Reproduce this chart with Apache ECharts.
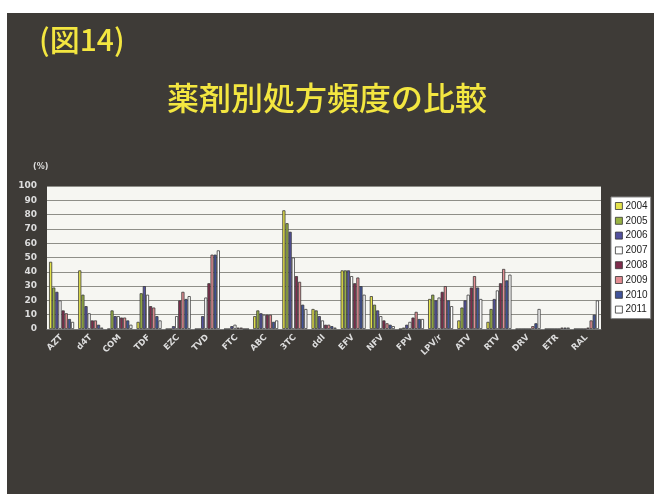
<!DOCTYPE html>
<html>
<head>
<meta charset="utf-8">
<script src="https://cdn.jsdelivr.net/npm/echarts@6/dist/echarts.min.js"></script>
<style>
  html, body { margin: 0; padding: 0; background: #ffffff; }
  #chart { width: 654px; height: 494px; }
</style>
</head>
<body>
<div id="chart"></div>
<script>
// Drug names along the x axis
const drugs = ['AZT', 'd4T', 'COM', 'TDF', 'EZC', 'TVD', 'FTC', 'ABC', '3TC', 'ddI',
               'EFV', 'NFV', 'FPV', 'LPV/r', 'ATV', 'RTV', 'DRV', 'ETR', 'RAL'];

// Prescription frequency (%) per drug, one array per year
const y2004 = [47, 41, 0, 5, 0, 0, 0, 9, 83, 14, 41, 23, 0, 21, 6, 5, 0, 0, 0];
const y2005 = [29, 24, 13, 25, 0, 0, 0, 13, 74, 13, 41, 17, 1, 24, 15, 14, 0, 0, 0];
const y2006 = [26, 16, 9, 30, 2, 9, 2, 11, 68, 9, 41, 13, 3, 20, 20, 21, 0, 0, 0];
const y2007 = [20, 11, 9, 24, 9, 22, 3, 10, 50, 6, 37, 9, 5, 22, 24, 27, 0, 0, 0];
const y2008 = [13, 6, 8, 16, 20, 32, 1, 10, 37, 3, 32, 6, 8, 26, 29, 32, 0, 0, 1];
const y2009 = [11, 6, 8, 15, 26, 52, 1, 10, 33, 3, 36, 4, 12, 30, 37, 42, 2, 1, 6];
const y2010 = [7, 3, 6, 9, 21, 52, 0, 5, 17, 2, 30, 3, 7, 20, 29, 34, 4, 1, 10];
const y2011 = [5, 1, 3, 6, 23, 55, 0, 6, 14, 1, 24, 2, 7, 16, 21, 38, 14, 1, 20];

const years = ['2004', '2005', '2006', '2007', '2008', '2009', '2010', '2011'];
const yearData = [y2004, y2005, y2006, y2007, y2008, y2009, y2010, y2011];
const yearColors = ['#e4e24a', '#98b244', '#52509e', '#ffffff',
                    '#7e2c4c', '#e28c92', '#41539a', '#ffffff'];

// Y axis ticks
const yMin = 0, yMax = 100, yStep = 10;

const chart = echarts.init(document.getElementById('chart'), null, { renderer: 'canvas' });

const series = years.map((yr, i) => ({
  name: yr,
  type: 'bar',
  data: yearData[i],
  barGap: '0%',
  barCategoryGap: '14%',
  itemStyle: { color: yearColors[i], borderColor: '#3a3a3a', borderWidth: 0.8 },
  emphasis: { disabled: true }
}));

chart.setOption({
  animation: false,
  backgroundColor: '#ffffff',
  graphic: [
    { type: 'rect', z: -10, shape: { x: 7, y: 13, width: 647, height: 481 },
      style: { fill: '#3e3b37' } },
    { type: 'text', left: 39, top: 25, z: 10,
      style: { text: '(図14)', fill: '#f3e640', font: '500 30px "Noto Sans CJK JP"' } },
    { type: 'text', left: 'center', top: 82, z: 10,
      style: { text: '薬剤別処方頻度の比較', fill: '#f3e640', font: '500 32px "Noto Sans CJK JP"' } },
    { type: 'text', left: 33, top: 163, z: 10,
      style: { text: '(%)', fill: '#dddddd', font: 'bold 8px "DejaVu Sans"' } }
  ],
  grid: {
    left: 47, right: 53, top: 186, bottom: 165,
    show: true, backgroundColor: '#f6f6f2', borderWidth: 0
  },
  legend: {
    orient: 'vertical',
    left: 611, top: 197,
    data: years,
    backgroundColor: '#ffffff',
    borderColor: '#888888', borderWidth: 1,
    padding: [4, 3, 4, 4],
    itemWidth: 7, itemHeight: 7, itemGap: 4.8,
    icon: 'rect',
    itemStyle: { borderColor: '#333333', borderWidth: 0.8 },
    textStyle: { color: '#222222', fontSize: 10, fontFamily: 'Liberation Sans', padding: [0, 0, 0, -2], lineHeight: 10 }
  },
  xAxis: {
    type: 'category',
    data: drugs,
    axisTick: { show: false },
    axisLine: { lineStyle: { color: '#777777' } },
    axisLabel: {
      interval: 0, rotate: 45, margin: 7,
      color: '#dddddd', fontSize: 8.5, fontWeight: 'bold', fontFamily: 'DejaVu Sans'
    }
  },
  yAxis: {
    type: 'value',
    min: yMin, max: yMax, interval: yStep,
    axisLine: { show: false },
    axisTick: { show: false },
    axisLabel: { color: '#dddddd', fontSize: 9, fontWeight: 'bold', fontFamily: 'DejaVu Sans', margin: 10 },
    splitLine: { lineStyle: { color: '#8e8e88', width: 1 } }
  },
  series: series
});
</script>
</body>
</html>
